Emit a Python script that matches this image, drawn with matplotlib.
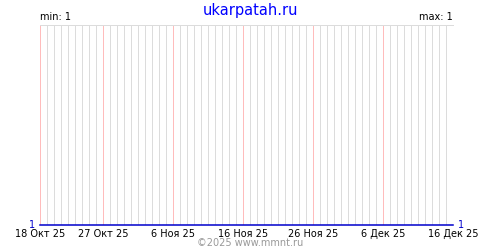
import numpy as np
import pandas as pd
import matplotlib
matplotlib.use('Agg')
from matplotlib import pyplot as plt

site_title = 'ukarpatah.ru'
footer = '\u00a92025 www.mmnt.ru'

# one value per day, 18 Oct 2025 .. 16 Dec 2025
start_date = '2025-10-18'
end_date = '2025-12-16'
values = [1, 1, 1, 1, 1, 1, 1, 1, 1, 1, 1, 1, 1, 1, 1, 1, 1, 1, 1, 1,
          1, 1, 1, 1, 1, 1, 1, 1, 1, 1, 1, 1, 1, 1, 1, 1, 1, 1, 1, 1,
          1, 1, 1, 1, 1, 1, 1, 1, 1, 1, 1, 1, 1, 1, 1, 1, 1, 1, 1, 1]
tick_dates = ['2025-10-18', '2025-10-27', '2025-11-06', '2025-11-16',
              '2025-11-26', '2025-12-06', '2025-12-16']
tick_labels = ['18 Окт 25', '27 Окт 25', '6 Ноя 25', '16 Ноя 25',
               '26 Ноя 25', '6 Дек 25', '16 Дек 25']

plt.rcParams['font.family'] = ['DejaVu Sans']

fig = plt.figure(figsize=(5, 2.5), dpi=100)
ax = fig.add_axes([0.08, 0.1, 0.826, 0.8])

days = pd.date_range(start_date, end_date, freq='D')
ticks = pd.to_datetime(tick_dates)
minor = [d for d in days if d not in set(ticks)]

ax.vlines(minor, 1, 2, colors='#dcdcdc', lw=0.72, zorder=1, snap=True)
ax.vlines(ticks, 1, 2, colors='#ffbcbc', lw=0.72, zorder=2, snap=True)

ax.plot(days, values, color='#0000cc', lw=1.1, zorder=3, clip_on=False,
        snap=True)

ax.set_xlim(days[0], days[-1])
ax.set_ylim(1, 2)

for side in ['left', 'right', 'bottom']:
    ax.spines[side].set_visible(False)
ax.spines['top'].set_color('#dcdcdc')
ax.spines['top'].set_linewidth(0.72)

ax.set_yticks([])
ax.set_xticks(ticks)
ax.set_xticklabels(tick_labels, fontsize=7)
ax.tick_params(axis='x', length=0, pad=3)

ax.text(-0.012, 0, str(min(values)), transform=ax.transAxes, color='#0000cc',
        fontsize=7, ha='right', va='center')
ax.text(1.012, 0, str(max(values)), transform=ax.transAxes, color='#0000cc',
        fontsize=7, ha='left', va='center')
ax.text(0, 1.015, 'min: %d' % min(values), transform=ax.transAxes,
        fontsize=7, ha='left', va='bottom')
ax.text(1, 1.015, 'max: %d' % max(values), transform=ax.transAxes,
        fontsize=7, ha='right', va='bottom')

fig.text(0.5, 0.96, site_title, color='#0000ff', fontsize=10.5,
         ha='center', va='center')
fig.text(0.5, 0.028, footer, color='#999999', fontsize=7,
         ha='center', va='center')

plt.savefig('out.png', dpi=100)
